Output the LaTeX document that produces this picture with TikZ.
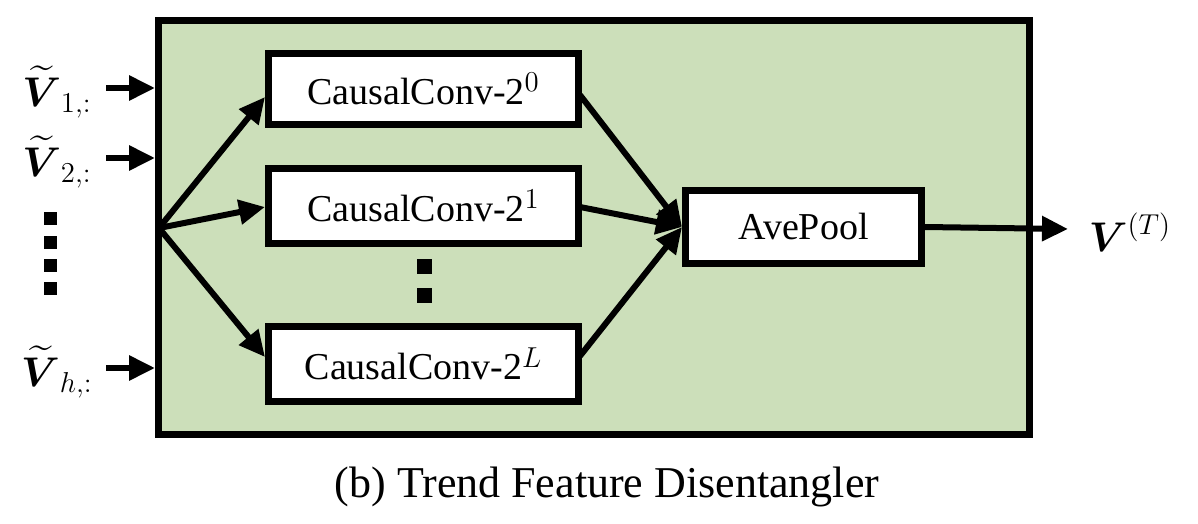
\documentclass[tikz,border=0pt]{standalone}
\usepackage{amsmath,amssymb}
\usepackage{fontspec}
\setmainfont{Liberation Serif}
\usetikzlibrary{arrows.meta,calc}
\definecolor{bggreen}{RGB}{204,223,186}
\tikzset{
  box/.style={draw=black, fill=white, line width=3.5pt, minimum width=155pt, minimum height=37.5pt, inner sep=0pt, font=\fontsize{19}{22}\selectfont},
  arr/.style={line width=3pt, -{Triangle[length=13pt,width=12pt]}},
  dotsq/.style={fill=black, minimum size=6.5pt, inner sep=0pt},
  inlab/.style={font=\fontsize{20.5}{24}\selectfont, inner sep=0pt}
}
\begin{document}
\begin{tikzpicture}[x=0.5pt,y=-0.5pt]
\useasboundingbox (0,0) rectangle (1198,524);
\node[draw=black, fill=bggreen, line width=3.5pt, minimum width=435.5pt, minimum height=207pt, inner sep=0pt] (frame) at (594,227.5) {};
\node[box, minimum height=35.5pt] (b1) at (423.5,89) {CausalConv-2$^0$};
\node[box] (b2) at (423.5,206) {CausalConv-2$^1$};
\node[box] (b3) at (423.5,364) {CausalConv-2$^L$};
\node[box, minimum width=118pt, minimum height=36.5pt] (ap) at (803.5,227) {AvePool};
% middle dots
\node[dotsq, minimum size=7.5pt] (m1) at (424.5,266.5) {};
\node[dotsq, minimum size=7.5pt] (m2) at (424.5,295.5) {};
% left dots
\node[dotsq] (l1) at (50,218) {};
\node[dotsq] (l2) at (50,242) {};
\node[dotsq] (l3) at (50,265) {};
\node[dotsq] (l4) at (50,288) {};
% inputs
\node[inlab] (v1) at (57,92) {$\boldsymbol{\widetilde{V}}_{1,:}$};
\node[inlab] (v2) at (57,162) {$\boldsymbol{\widetilde{V}}_{2,:}$};
\node[inlab] (vh) at (57,372) {$\boldsymbol{\widetilde{V}}_{h,:}$};
\coordinate (i1) at (106,88);
\coordinate (i2) at (106,158);
\coordinate (ih) at (106,368);
\draw[arr] (i1) -- (i1 -| frame.west);
\draw[arr] (i2) -- (i2 -| frame.west);
\draw[arr] (ih) -- (ih -| frame.west);
% fan
\coordinate (fan) at (159,228);
\draw[arr] (fan) -- ($(b1.west)+(0,8)$);
\draw[arr] (fan) -- ($(b2.west)+(0,1)$);
\draw[arr] (fan) -- ($(b3.west)+(0,-7)$);
% converge
\draw[arr] ($(b1.east)+(-2,6)$) -- (ap.west);
\draw[arr] ($(b2.east)+(-2,1)$) -- (ap.west);
\draw[arr] ($(b3.east)+(-2,-8)$) -- (ap.west);
% output
\node[inlab, font=\fontsize{22}{26}\selectfont] (out) at (1130,232) {$\boldsymbol{V}^{(T)}$};
\coordinate (oend) at (1068,229);
\draw[arr] (ap.east) -- (oend);
% caption
\node[font=\fontsize{22}{26}\selectfont, inner sep=0pt] (cap) at (607,487) {(b) Trend Feature Disentangler};
\end{tikzpicture}
\end{document}
